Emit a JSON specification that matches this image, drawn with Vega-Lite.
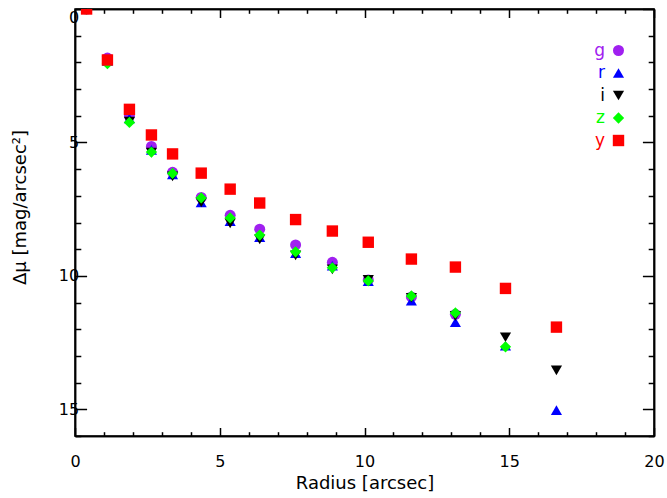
{
  "$schema": "https://vega.github.io/schema/vega-lite/v6.json",
  "width": 579,
  "height": 427,
  "autosize": {"type": "none"},
  "padding": {"left": 75, "top": 9, "right": 13, "bottom": 62},
  "config": {
    "view": {"stroke": "#000", "strokeWidth": 1.5},
    "font": "DejaVu Sans",
    "axis": {
      "grid": false,
      "domainColor": "#000",
      "domainWidth": 1.5,
      "tickColor": "#000",
      "tickWidth": 1.5,
      "labelColor": "#000",
      "labelFontSize": 16,
      "labelFont": "DejaVu Sans",
      "titleFont": "DejaVu Sans",
      "titleFontSize": 18,
      "titleFontWeight": "normal",
      "titleColor": "#000",
      "labelOverlap": false,
      "labelFlush": false
    },
    "legend": {"padding": 0}
  },
  "data": {
    "values": [
      {"radius": 0.4, "band": "g", "dmu": 0.0},
      {"radius": 1.12, "band": "g", "dmu": 1.84},
      {"radius": 1.88, "band": "g", "dmu": 4.0},
      {"radius": 2.64, "band": "g", "dmu": 5.15},
      {"radius": 3.37, "band": "g", "dmu": 6.12},
      {"radius": 4.36, "band": "g", "dmu": 7.06},
      {"radius": 5.36, "band": "g", "dmu": 7.73},
      {"radius": 6.38, "band": "g", "dmu": 8.25},
      {"radius": 7.62, "band": "g", "dmu": 8.84},
      {"radius": 8.89, "band": "g", "dmu": 9.49},
      {"radius": 10.13, "band": "g", "dmu": 10.15},
      {"radius": 11.62, "band": "g", "dmu": 10.79},
      {"radius": 13.14, "band": "g", "dmu": 11.44},
      {"radius": 0.4, "band": "r", "dmu": 0.0},
      {"radius": 1.12, "band": "r", "dmu": 1.95},
      {"radius": 1.88, "band": "r", "dmu": 4.1},
      {"radius": 2.64, "band": "r", "dmu": 5.28},
      {"radius": 3.37, "band": "r", "dmu": 6.2},
      {"radius": 4.36, "band": "r", "dmu": 7.25},
      {"radius": 5.36, "band": "r", "dmu": 7.95},
      {"radius": 6.38, "band": "r", "dmu": 8.55},
      {"radius": 7.62, "band": "r", "dmu": 9.15},
      {"radius": 8.89, "band": "r", "dmu": 9.62},
      {"radius": 10.13, "band": "r", "dmu": 10.2},
      {"radius": 11.62, "band": "r", "dmu": 10.93},
      {"radius": 13.14, "band": "r", "dmu": 11.74},
      {"radius": 14.87, "band": "r", "dmu": 12.62},
      {"radius": 16.63, "band": "r", "dmu": 15.03},
      {"radius": 0.4, "band": "i", "dmu": 0.0},
      {"radius": 1.12, "band": "i", "dmu": 1.97},
      {"radius": 1.88, "band": "i", "dmu": 4.22},
      {"radius": 2.64, "band": "i", "dmu": 5.38},
      {"radius": 3.37, "band": "i", "dmu": 6.27},
      {"radius": 4.36, "band": "i", "dmu": 7.25},
      {"radius": 5.36, "band": "i", "dmu": 8.03},
      {"radius": 6.38, "band": "i", "dmu": 8.63},
      {"radius": 7.62, "band": "i", "dmu": 9.23},
      {"radius": 8.89, "band": "i", "dmu": 9.76},
      {"radius": 10.13, "band": "i", "dmu": 10.15},
      {"radius": 11.62, "band": "i", "dmu": 10.82},
      {"radius": 13.14, "band": "i", "dmu": 11.5},
      {"radius": 14.87, "band": "i", "dmu": 12.3},
      {"radius": 16.63, "band": "i", "dmu": 13.54},
      {"radius": 0.4, "band": "z", "dmu": 0.0},
      {"radius": 1.12, "band": "z", "dmu": 2.05},
      {"radius": 1.88, "band": "z", "dmu": 4.25},
      {"radius": 2.64, "band": "z", "dmu": 5.36},
      {"radius": 3.37, "band": "z", "dmu": 6.16},
      {"radius": 4.36, "band": "z", "dmu": 7.08},
      {"radius": 5.36, "band": "z", "dmu": 7.83},
      {"radius": 6.38, "band": "z", "dmu": 8.47},
      {"radius": 7.62, "band": "z", "dmu": 9.1},
      {"radius": 8.89, "band": "z", "dmu": 9.7},
      {"radius": 10.13, "band": "z", "dmu": 10.19},
      {"radius": 11.62, "band": "z", "dmu": 10.75},
      {"radius": 13.14, "band": "z", "dmu": 11.39},
      {"radius": 14.87, "band": "z", "dmu": 12.66},
      {"radius": 0.4, "band": "y", "dmu": 0.0},
      {"radius": 1.12, "band": "y", "dmu": 1.91},
      {"radius": 1.88, "band": "y", "dmu": 3.76},
      {"radius": 2.64, "band": "y", "dmu": 4.72},
      {"radius": 3.37, "band": "y", "dmu": 5.43},
      {"radius": 4.36, "band": "y", "dmu": 6.15},
      {"radius": 5.36, "band": "y", "dmu": 6.75},
      {"radius": 6.38, "band": "y", "dmu": 7.27},
      {"radius": 7.62, "band": "y", "dmu": 7.89},
      {"radius": 8.89, "band": "y", "dmu": 8.32},
      {"radius": 10.13, "band": "y", "dmu": 8.74},
      {"radius": 11.62, "band": "y", "dmu": 9.37},
      {"radius": 13.14, "band": "y", "dmu": 9.67},
      {"radius": 14.87, "band": "y", "dmu": 10.47},
      {"radius": 16.63, "band": "y", "dmu": 11.92}
    ]
  },
  "layer": [
    {
      "mark": {"type": "point", "filled": true, "opacity": 1, "clip": true, "strokeWidth": 0},
      "encoding": {
        "x": {
          "field": "radius", "type": "quantitative",
          "scale": {"domain": [0, 20], "nice": false, "zero": false},
          "axis": {
            "orient": "bottom",
            "values": [0, 5, 10, 15, 20],
            "tickSize": -8.5,
            "labelPadding": 26,
            "title": "Radius [arcsec]",
            "titlePadding": 5
          }
        },
        "y": {
          "field": "dmu", "type": "quantitative",
          "scale": {"domain": [0, 16], "nice": false, "reverse": true},
          "axis": {
            "orient": "left",
            "values": [0, 5, 10, 15],
            "tickSize": -11.6,
            "labelPadding": 8,
            "labelBaseline": {"condition": {"test": "datum.value === 0", "value": "top"}, "value": "middle"},
            "title": "Δμ [mag/arcsec²]",
            "titleY": 198,
            "titlePadding": 29
          }
        },
        "color": {
          "field": "band", "type": "nominal",
          "scale": {"domain": ["g", "r", "i", "z", "y"], "range": ["#a020f0", "#0000ff", "#000000", "#00ff00", "#ff0000"]},
          "legend": {
            "title": null,
            "orient": "none",
            "legendX": 535,
            "legendY": 33,
            "symbolSize": 85,
            "symbolStrokeWidth": 0,
            "labelFontSize": 17,
            "labelFont": "DejaVu Sans",
            "labelAlign": "right",
            "labelOffset": -22,
            "rowPadding": 4.5,
            "labelColor": {"expr": "datum.label == 'g' ? '#a020f0' : datum.label == 'r' ? '#0000ff' : datum.label == 'i' ? '#000000' : datum.label == 'z' ? '#00ff00' : '#ff0000'"}
          }
        },
        "shape": {
          "field": "band", "type": "nominal",
          "scale": {"domain": ["g", "r", "i", "z", "y"], "range": ["circle", "triangle-up", "triangle-down", "diamond", "square"]}
        },
        "size": {
          "field": "band", "type": "nominal",
          "scale": {"domain": ["g", "r", "i", "z", "y"], "range": [121, 130, 130, 121, 169]},
          "legend": null
        }
      }
    },
    {
      "mark": {"type": "point", "opacity": 0},
      "encoding": {
        "x": {
          "field": "radius", "type": "quantitative",
          "scale": {"domain": [0, 20], "nice": false, "zero": false},
          "axis": {"orient": "bottom", "values": [1,2,3,4,6,7,8,9,11,12,13,14,16,17,18,19], "labels": false, "tickSize": -4.3, "title": null}
        },
        "y": {
          "field": "dmu", "type": "quantitative",
          "scale": {"domain": [0, 16], "nice": false, "reverse": true},
          "axis": {"orient": "left", "values": [1,2,3,4,6,7,8,9,11,12,13,14,16], "labels": false, "tickSize": -5.8, "title": null}
        }
      }
    },
    {
      "mark": {"type": "point", "opacity": 0},
      "encoding": {
        "x": {
          "field": "radius", "type": "quantitative",
          "scale": {"domain": [0, 20], "nice": false, "zero": false},
          "axis": {"orient": "top", "values": [0, 5, 10, 15, 20], "labels": false, "tickSize": -8.5, "title": null}
        },
        "y": {
          "field": "dmu", "type": "quantitative",
          "scale": {"domain": [0, 16], "nice": false, "reverse": true},
          "axis": {"orient": "right", "values": [0, 5, 10, 15], "labels": false, "tickSize": -11.6, "title": null}
        }
      }
    },
    {
      "mark": {"type": "point", "opacity": 0},
      "encoding": {
        "x": {
          "field": "radius", "type": "quantitative",
          "scale": {"domain": [0, 20], "nice": false, "zero": false},
          "axis": {"orient": "top", "values": [1,2,3,4,6,7,8,9,11,12,13,14,16,17,18,19], "labels": false, "tickSize": -4.3, "title": null}
        },
        "y": {
          "field": "dmu", "type": "quantitative",
          "scale": {"domain": [0, 16], "nice": false, "reverse": true},
          "axis": {"orient": "right", "values": [1,2,3,4,6,7,8,9,11,12,13,14,16], "labels": false, "tickSize": -5.8, "title": null}
        }
      }
    }
  ],
  "resolve": {"axis": {"x": "independent", "y": "independent"}}
}
